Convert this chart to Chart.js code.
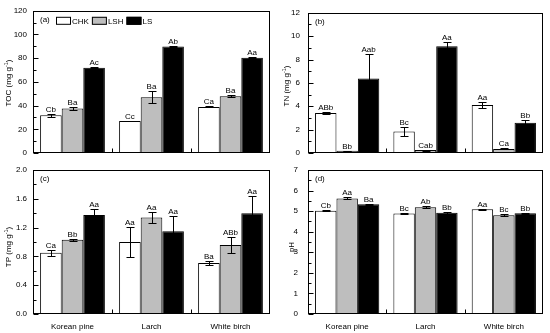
<!DOCTYPE html>
<html>
<head>
<meta charset="utf-8">
<script src="https://cdn.jsdelivr.net/npm/chart.js@4.4.1/dist/chart.umd.min.js"></script>
<style>
  html, body { margin: 0; padding: 0; background: #fff; }
  #wrap { position: relative; width: 550px; height: 333px; }
  #wrap canvas { position: absolute; left: 0; top: 0; }
</style>
</head>
<body>
<div id="wrap">
  <canvas id="cTOC" width="550" height="333"></canvas>
  <canvas id="cTN" width="550" height="333"></canvas>
  <canvas id="cTP" width="550" height="333"></canvas>
  <canvas id="cPH" width="550" height="333"></canvas>
</div>
<script>
// ---- data ----
const forests = ['Korean pine', 'Larch', 'White birch'];
const treatments = ['CHK', 'LSH', 'LS'];

const tocCHK = [31.8, 27.0, 38.9];
const tocLSH = [37.5, 47.1, 47.9];
const tocLS  = [72.0, 89.9, 80.3];
const tocErrCHK = [1.0, 0.3, 0.5];
const tocErrLSH = [1.4, 5.2, 0.8];
const tocErrLS  = [0.3, 0.3, 0.3];
const tocLetters = [['Cb', 'Cc', 'Ca'], ['Ba', 'Ba', 'Ba'], ['Ac', 'Ab', 'Aa']];

const tnCHK = [3.42, 1.85, 4.11];
const tnLSH = [0.19, 0.25, 0.35];
const tnLS  = [6.37, 9.13, 2.59];
const tnErrCHK = [0.05, 0.37, 0.28];
const tnErrLSH = [0.02, 0.04, 0.05];
const tnErrLS  = [2.07, 0.37, 0.2];
const tnLetters = [['ABb', 'Bc', 'Aa'], ['Bb', 'Cab', 'Ca'], ['Aab', 'Aa', 'Bb']];

const tpCHK = [0.85, 1.0, 0.71];
const tpLSH = [1.03, 1.34, 0.96];
const tpLS  = [1.375, 1.15, 1.40];
const tpErrCHK = [0.04, 0.215, 0.03];
const tpErrLSH = [0.015, 0.07, 0.115];
const tpErrLS  = [0.08, 0.215, 0.24];
const tpLetters = [['Ca', 'Aa', 'Ba'], ['Bb', 'Aa', 'ABb'], ['Aa', 'Aa', 'Aa']];

const phCHK = [5.02, 4.88, 5.09];
const phLSH = [5.62, 5.19, 4.80];
const phLS  = [5.33, 4.92, 4.90];
const phErrCHK = [0.02, 0.02, 0.02];
const phErrLSH = [0.05, 0.04, 0.06];
const phErrLS  = [0.03, 0.05, 0.03];
const phLetters = [['Cb', 'Bc', 'Aa'], ['Aa', 'Ab', 'Bc'], ['Ba', 'Bb', 'Bb']];

const FONT = "'Liberation Sans', Arial, sans-serif";
const fills = ['#ffffff', '#bebebe', '#000000'];

// error bars, letters, frame, inward ticks, axis title, tag, legend
const panelPlugin = {
  id: 'panel',
  afterDatasetsDraw(chart, args, o) {
    const { ctx, chartArea: a, scales: { x, y } } = chart;
    ctx.save();
    ctx.strokeStyle = '#000';
    ctx.fillStyle = '#000';
    ctx.lineWidth = 1;
    ctx.font = '8px ' + FONT;
    ctx.textAlign = 'center';
    ctx.textBaseline = 'alphabetic';

    chart.data.datasets.forEach((ds, di) => {
      chart.getDatasetMeta(di).data.forEach((bar, i) => {
        const v = ds.data[i], e = o.errors[di][i];
        const yt = Math.round(y.getPixelForValue(v + e)) + 0.5;
        const yb = Math.round(y.getPixelForValue(v - e)) + 0.5;
        const bx = Math.round(bar.x) + 0.5;
        ctx.strokeStyle = di === 2 ? '#000' : '#000';
        ctx.beginPath();
        ctx.moveTo(bx, yt); ctx.lineTo(bx, yb);
        ctx.moveTo(bx - 4, yt); ctx.lineTo(bx + 4, yt);
        ctx.moveTo(bx - 4, yb); ctx.lineTo(bx + 4, yb);
        ctx.stroke();
        ctx.fillText(o.letters[di][i], bar.x, yt - 3);
      });
    });

    // frame
    const L = Math.round(a.left) + 0.5, R = Math.round(a.right) - 0.5;
    const T = Math.round(a.top) + 0.5, B = Math.round(a.bottom) - 0.5;
    ctx.strokeRect(L, T, R - L, B - T);

    // inward y ticks (major + minor)
    ctx.beginPath();
    const n = Math.round((y.max - y.min) / o.minor);
    for (let k = 0; k <= n; k++) {
      const v = y.min + k * o.minor;
      const py = Math.round(y.getPixelForValue(v)) + 0.5;
      const major = Math.abs(v / o.major - Math.round(v / o.major)) < 1e-6;
      ctx.moveTo(L, py); ctx.lineTo(L + (major ? 5 : 3), py);
    }
    // category boundary ticks on x axis
    for (let i = 0; i < forests.length - 1; i++) {
      const px = Math.round((x.getPixelForValue(i) + x.getPixelForValue(i + 1)) / 2) + 0.5;
      ctx.moveTo(px, B); ctx.lineTo(px, B - 4);
    }
    ctx.stroke();

    // panel tag
    ctx.textAlign = 'left';
    ctx.textBaseline = 'middle';
    ctx.fillText(o.tag, a.left + 7, a.top + 9);

    // y-axis title with superscript
    ctx.save();
    ctx.translate(o.titleX, o.titleY);
    ctx.rotate(-Math.PI / 2);
    const parts = o.title;
    ctx.font = '8px ' + FONT;
    const w0 = ctx.measureText(parts[0]).width;
    const w2 = ctx.measureText(parts[2]).width;
    ctx.font = '5.5px ' + FONT;
    const w1 = ctx.measureText(parts[1]).width;
    let tx = -(w0 + w1 + w2) / 2;
    ctx.font = '8px ' + FONT;
    ctx.fillText(parts[0], tx, 0); tx += w0;
    ctx.font = '5.5px ' + FONT;
    ctx.fillText(parts[1], tx, -3); tx += w1;
    ctx.font = '8px ' + FONT;
    ctx.fillText(parts[2], tx, 0);
    ctx.restore();

    // legend
    if (o.legend) {
      let lx = a.left + 23;
      const ly = a.top + 6;
      chart.data.datasets.forEach(ds => {
        ctx.fillStyle = ds.backgroundColor;
        ctx.fillRect(lx, ly, 15, 8);
        ctx.strokeStyle = '#000';
        ctx.strokeRect(lx + 0.5, ly + 0.5, 14, 7);
        ctx.fillStyle = '#000';
        ctx.textBaseline = 'middle';
        ctx.fillText(ds.label, lx + 16, ly + 4.5);
        lx += 16 + ctx.measureText(ds.label).width + 3;
      });
    }
    ctx.restore();
  }
};

function makePanel(id, vals, errs, letters, p) {
  return new Chart(document.getElementById(id), {
    type: 'bar',
    data: {
      labels: forests,
      datasets: treatments.map((t, i) => ({
        label: t,
        data: vals[i],
        backgroundColor: fills[i],
        borderColor: '#000',
        borderWidth: 1,
        borderSkipped: 'start',
        barPercentage: 1,
        categoryPercentage: 0.82
      }))
    },
    options: {
      responsive: false,
      animation: false,
      events: [],
      layout: { padding: p.padding },
      plugins: {
        legend: { display: false },
        tooltip: { enabled: false },
        panel: {
          errors: errs, letters, tag: p.tag, title: p.title,
          titleX: p.titleX, titleY: p.titleY,
          major: p.step, minor: p.minor, legend: !!p.legend
        }
      },
      scales: {
        x: {
          grid: { display: false, drawTicks: false },
          border: { display: false },
          ticks: { display: !!p.xLabels, color: '#000', padding: 8, font: { family: FONT, size: 8 } },
          afterFit: s => { s.height = p.xLabels ? 19 : 0; }
        },
        y: {
          min: p.min, max: p.max,
          grid: { display: false, drawTicks: false },
          border: { display: false },
          ticks: {
            stepSize: p.step, color: '#000', padding: p.tickPad,
            font: { family: FONT, size: 8 },
            callback: v => v.toFixed(p.decimals)
          },
          afterFit: s => { s.width = 33; }
        }
      }
    },
    plugins: [panelPlugin]
  });
}

makePanel('cTOC', [tocCHK, tocLSH, tocLS], [tocErrCHK, tocErrLSH, tocErrLS], tocLetters, {
  padding: { left: 0, right: 280, top: 7, bottom: 180 },
  min: 0, max: 120, step: 20, minor: 10, decimals: 0, tickPad: 6,
  tag: '(a)', title: ['TOC (mg g', '-1', ')'], titleX: 9, titleY: 83, legend: true
});
makePanel('cTN', [tnCHK, tnLSH, tnLS], [tnErrCHK, tnErrLSH, tnErrLS], tnLetters, {
  padding: { left: 275, right: 7, top: 8, bottom: 180 },
  min: 0, max: 12, step: 2, minor: 1, decimals: 0, tickPad: 8,
  tag: '(b)', title: ['TN (mg g', '-1', ')'], titleX: 287, titleY: 86
});
makePanel('cTP', [tpCHK, tpLSH, tpLS], [tpErrCHK, tpErrLSH, tpErrLS], tpLetters, {
  padding: { left: 0, right: 280, top: 170, bottom: 0 },
  min: 0, max: 2, step: 0.4, minor: 0.2, decimals: 1, tickPad: 6,
  tag: '(c)', title: ['TP (mg g', '-1', ')'], titleX: 9, titleY: 247, xLabels: true
});
makePanel('cPH', [phCHK, phLSH, phLS], [phErrCHK, phErrLSH, phErrLS], phLetters, {
  padding: { left: 275, right: 7, top: 170, bottom: 0 },
  min: 0, max: 7, step: 1, minor: 0.5, decimals: 0, tickPad: 10,
  tag: '(d)', title: ['pH', '', ''], titleX: 292, titleY: 247, xLabels: true
});
</script>
</body>
</html>
